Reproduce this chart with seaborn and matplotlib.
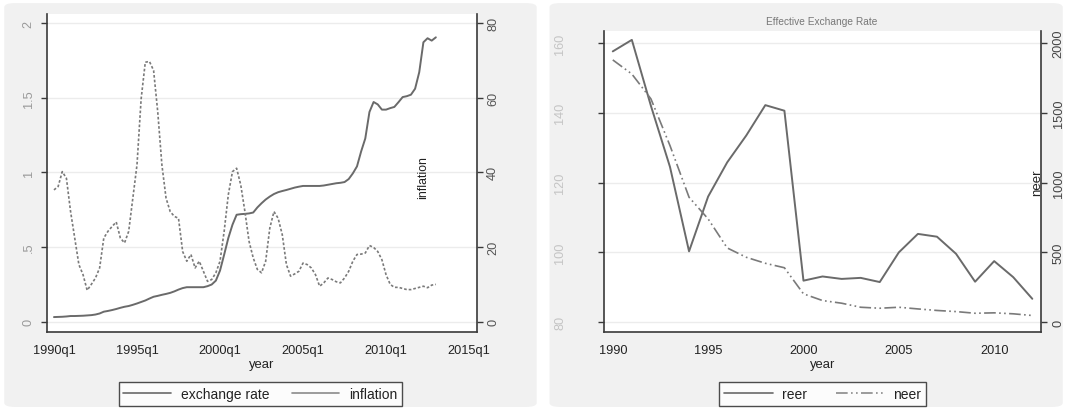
import numpy as np
import pandas as pd
import matplotlib
matplotlib.use("Agg")
import matplotlib.pyplot as plt
import seaborn as sns
from matplotlib.lines import Line2D
from matplotlib.patches import FancyBboxPatch

sns.set_theme(style="white")
plt.rcParams['font.family'] = ['Liberation Sans', 'DejaVu Sans']

# ---------------- data ----------------
quarters_start = 1990  # 1990q1 .. 2013q1
exchange_rate = [
    0.031, 0.032, 0.033, 0.035, 0.038, 0.038, 0.039, 0.040, 0.042, 0.044,
    0.048, 0.055, 0.067, 0.072, 0.078, 0.085, 0.093, 0.100, 0.105, 0.113,
    0.122, 0.132, 0.142, 0.155, 0.167, 0.173, 0.180, 0.186, 0.193, 0.203,
    0.215, 0.225, 0.231, 0.231, 0.231, 0.231, 0.231, 0.238, 0.249, 0.275,
    0.342, 0.449, 0.560, 0.649, 0.716, 0.720, 0.722, 0.725, 0.731, 0.765,
    0.793, 0.818, 0.838, 0.855, 0.867, 0.875, 0.882, 0.890, 0.898, 0.904,
    0.909, 0.909, 0.909, 0.909, 0.909, 0.912, 0.917, 0.922, 0.927, 0.930,
    0.935, 0.955, 0.993, 1.040, 1.140, 1.227, 1.404, 1.471, 1.455, 1.420,
    1.420, 1.430, 1.438, 1.470, 1.504, 1.510, 1.520, 1.560, 1.671, 1.871,
    1.898, 1.882, 1.904,
]
inflation = [
    35.3, 36.2, 40.2, 38.4, 29.5, 22.4, 15.3, 12.6, 8.4, 10.0,
    11.7, 14.4, 22.4, 24.2, 25.5, 26.7, 22.4, 21.1, 24.2, 33.1,
    42.0, 59.7, 69.5, 69.7, 67.3, 56.2, 42.0, 33.1, 29.5, 28.2,
    27.7, 18.8, 16.2, 18.0, 14.4, 16.2, 13.5, 10.8, 11.3, 13.1,
    16.2, 24.2, 34.0, 40.2, 41.1, 36.6, 29.5, 21.5, 17.1, 14.0,
    13.1, 16.2, 25.1, 29.5, 27.7, 23.3, 15.3, 12.2, 12.8, 13.5,
    15.7, 15.3, 14.4, 12.6, 9.5, 10.4, 11.7, 11.3, 10.7, 10.4,
    11.7, 13.5, 16.2, 18.0, 18.1, 18.4, 20.4, 19.9, 18.8, 16.6,
    12.6, 10.0, 9.2, 9.2, 8.9, 8.6, 8.6, 8.9, 9.2, 9.5,
    9.1, 9.8, 10.0,
]
q_ticks = [1990, 1995, 2000, 2005, 2010, 2015]
q_tick_labels = ["1990q1", "1995q1", "2000q1", "2005q1", "2010q1", "2015q1"]
left_ticks = [0, 0.5, 1, 1.5, 2]
left_tick_labels = ["0", ".5", "1", "1.5", "2"]
infl_ticks = [0, 20, 40, 60, 80]

years = list(range(1990, 2013))
reer = [157.6, 160.9, 142.0, 124.5, 100.3, 116.0, 125.8, 133.5, 142.2, 140.6,
        91.9, 93.1, 92.4, 92.7, 91.5, 100.0, 105.3, 104.5, 99.6, 91.6,
        97.5, 92.9, 86.7]
neer = [1879, 1778, 1600, 1265, 895, 740, 532, 465, 422, 390,
        203, 155, 136, 107, 100, 107, 95, 84, 76, 64,
        67, 60, 48]
reer_ticks = [80, 100, 120, 140, 160]
neer_ticks = [0, 500, 1000, 1500, 2000]
year_ticks = [1990, 1995, 2000, 2005, 2010]

qtime = [quarters_start + 0.25 * i for i in range(len(exchange_rate))]
df_q = pd.DataFrame({"t": qtime, "exchange rate": exchange_rate, "inflation": inflation})
df_y = pd.DataFrame({"year": years, "reer": reer, "neer": neer})

# ---------------- figure ----------------
W, H = 1067, 410
fig = plt.figure(figsize=(W / 100, H / 100), dpi=100, facecolor="white")

for (x0, x1) in [(0.004, 0.503), (0.515, 0.996)]:
    fig.patches.append(FancyBboxPatch((x0, 0.005), x1 - x0, 0.985,
                                      boxstyle="round,pad=0,rounding_size=0.01",
                                      transform=fig.transFigure, facecolor="#f1f1f1",
                                      edgecolor="none", zorder=-10))

def fx(px):
    return px / W

def fy(py):
    return 1 - py / H

spine_col = "#3a3a3a"
line_col = "#6a6a6a"
tick_fs = 9.2
leg_fs = 10

def style_axes(a_main, a_twin, lpad, rpad):
    for a in (a_main, a_twin):
        a.spines["top"].set_visible(False)
        for s in ("left", "bottom", "right"):
            a.spines[s].set_color(spine_col)
            a.spines[s].set_linewidth(1.2)
        a.tick_params(axis="both", direction="out", length=4.5, width=1, color=spine_col)
    a_main.tick_params(axis="x", pad=4)
    a_main.tick_params(axis="y", pad=lpad)
    a_twin.tick_params(axis="y", pad=rpad)
    a_main.spines["right"].set_visible(False)
    a_twin.spines["left"].set_visible(False)
    a_twin.spines["bottom"].set_visible(False)

# ---- left panel ----
axL = fig.add_axes([fx(46.5), fy(332.7), fx(476.7 - 46.5), fy(15) - fy(332.7)])
axL.set_facecolor("white")
axR = axL.twinx()

sns.lineplot(data=df_q, x="t", y="exchange rate", ax=axL, color=line_col, lw=1.4)
sns.lineplot(data=df_q, x="t", y="inflation", ax=axR, color="#7a7a7a", lw=1.2,
             linestyle=(0, (1.6, 1.2)))

ppu = 149.3
loL, hiL = -10 / ppu, 2 + 9 / ppu
axL.set_xlim(1989.55, 2015.46)
axL.set_ylim(loL, hiL)
axR.set_ylim(loL * 40, hiL * 40)
axL.set_xticks(q_ticks)
axL.set_xticklabels(q_tick_labels, fontsize=tick_fs, color="#222222")
axL.set_yticks(left_ticks)
axL.set_yticklabels(left_tick_labels, rotation=90, va="center", fontsize=tick_fs, color="#9a9a9a")
axR.set_yticks(infl_ticks)
axR.set_yticklabels([str(v) for v in infl_ticks], rotation=90, va="center", fontsize=tick_fs, color="#555555")
axL.grid(axis="y", color="#ececec", lw=1.0)
axL.set_axisbelow(True)
axL.set_xlabel("year", fontsize=9.4, labelpad=2, color="#222222")
axL.set_ylabel("")
axR.set_ylabel("")
style_axes(axL, axR, 4, 3)
fig.text(fx(423), fy(178), "inflation", rotation=90, ha="center", va="center",
         fontsize=8.8, color="#222222")

hL = [Line2D([], [], color=line_col, lw=1.2), Line2D([], [], color="#8a8a8a", lw=1.2)]
legL = fig.legend(hL, ["exchange rate", "inflation"], loc="center",
                  bbox_to_anchor=(fx(260.5), fy(395)), ncol=2, frameon=True,
                  fancybox=False, fontsize=leg_fs, handlelength=3.4, handletextpad=0.75,
                  columnspacing=1.6, borderaxespad=0, borderpad=0.35, labelcolor="#222222")
legL.get_frame().set_edgecolor("#222222")
legL.get_frame().set_linewidth(1.0)

# ---- right panel ----
ax2 = fig.add_axes([fx(604), fy(332.7), fx(1040.7 - 604), fy(31.7) - fy(332.7)])
ax2.set_facecolor("white")
ax2r = ax2.twinx()

dashdotdot = (0, (7, 2, 1, 2, 1, 2))
sns.lineplot(data=df_y, x="year", y="reer", ax=ax2, color=line_col, lw=1.4)
sns.lineplot(data=df_y, x="year", y="neer", ax=ax2r, color="#7a7a7a", lw=1.2,
             linestyle=dashdotdot)

ppu2 = 3.485
lo2, hi2 = 80 - 9.5 / ppu2, 160 + 12.3 / ppu2
ax2.set_xlim(1989.54, 2012.44)
ax2.set_ylim(lo2, hi2)
ax2r.set_ylim((lo2 - 80) * 25, (hi2 - 80) * 25)
ax2.set_xticks(year_ticks)
ax2.set_xticklabels([str(v) for v in year_ticks], fontsize=tick_fs, color="#222222")
ax2.set_yticks(reer_ticks)
ax2.set_yticklabels([str(v) for v in reer_ticks], rotation=90, va="center", fontsize=tick_fs, color="#c4c4c4")
ax2r.set_yticks(neer_ticks)
ax2r.set_yticklabels([str(v) for v in neer_ticks], rotation=90, va="center", fontsize=tick_fs, color="#444444")
ax2.grid(axis="y", color="#ececec", lw=1.0)
ax2.set_axisbelow(True)
ax2.set_xlabel("year", fontsize=9.4, labelpad=2, color="#222222")
ax2.set_ylabel("")
ax2r.set_ylabel("")
style_axes(ax2, ax2r, 22.5, 4)
fig.text(fx(1037), fy(183), "neer", rotation=90, ha="center", va="center",
         fontsize=9.5, color="#222222")
fig.text(fx(821.5), fy(22.3), "Effective Exchange Rate", ha="center", va="center",
         fontsize=7.3, color="#777777")

hR = [Line2D([], [], color=line_col, lw=1.2),
      Line2D([], [], color="#8a8a8a", lw=1.2, linestyle=dashdotdot)]
legR = fig.legend(hR, ["reer", "neer"], loc="center",
                  bbox_to_anchor=(fx(822.8), fy(395)), ncol=2, frameon=True,
                  fancybox=False, fontsize=leg_fs, handlelength=3.5, handletextpad=0.65,
                  columnspacing=2.1, borderaxespad=0, borderpad=0.35, labelcolor="#222222")
legR.get_frame().set_edgecolor("#222222")
legR.get_frame().set_linewidth(1.0)

fig.savefig("out.png", dpi=100, facecolor=fig.get_facecolor())
